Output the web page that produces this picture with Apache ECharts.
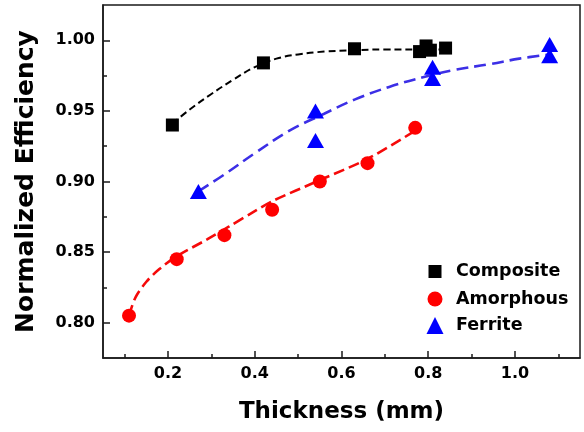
<!DOCTYPE html>
<html>
<head>
<meta charset="utf-8">
<script src="https://cdn.jsdelivr.net/npm/echarts@6/dist/echarts.min.js"></script>
<style>
  html, body { margin: 0; padding: 0; background: #fff; }
  #chart { width: 584px; height: 432px; }
</style>
</head>
<body>
<div id="chart"></div>
<script>
// Measured samples: thickness (mm) vs normalized efficiency
const compositeThickness = [0.21, 0.42, 0.63, 0.78, 0.795, 0.805, 0.84];
const compositeEff       = [0.940, 0.984, 0.994, 0.992, 0.996, 0.993, 0.9945];

const amorphousThickness = [0.11, 0.22, 0.33, 0.44, 0.55, 0.66, 0.77];
const amorphousEff       = [0.805, 0.845, 0.862, 0.880, 0.900, 0.913, 0.938];

const ferriteThickness = [0.27, 0.54, 0.54, 0.81, 0.81, 1.08, 1.08];
const ferriteEff       = [0.893, 0.950, 0.929, 0.981, 0.973, 0.997, 0.989];

// Fitted trend curves
const compositeFitX = [0.21, 0.25, 0.30, 0.35, 0.40, 0.45, 0.50, 0.56, 0.63, 0.70, 0.78, 0.84];
const compositeFitY = [0.941, 0.951, 0.962, 0.972, 0.981, 0.987, 0.990, 0.992, 0.993, 0.9935, 0.9935, 0.9935];

const amorphousFitX = [0.11, 0.125, 0.15, 0.18, 0.22, 0.29, 0.34, 0.40, 0.44, 0.55, 0.66, 0.77];
const amorphousFitY = [0.805, 0.818, 0.829, 0.838, 0.847, 0.859, 0.868, 0.879, 0.886, 0.901, 0.916, 0.936];

const ferriteFitX = [0.27, 0.33, 0.40, 0.48, 0.56, 0.63, 0.71, 0.79, 0.86, 0.94, 1.01, 1.08];
const ferriteFitY = [0.893, 0.905, 0.920, 0.936, 0.948, 0.958, 0.967, 0.974, 0.979, 0.983, 0.987, 0.990];

// Axis ticks
const xMajorTicks = [0.2, 0.4, 0.6, 0.8, 1.0];
const xMinorTicks = [0.1, 0.3, 0.5, 0.7, 0.9, 1.1];
const yMajorTicks = [0.80, 0.85, 0.90, 0.95, 1.00];
const yMinorTicks = [0.825, 0.875, 0.925, 0.975];

const FONT = 'DejaVu Sans';
const INK = '#1a1a1a';

function pairs(xs, ys) { return xs.map((x, i) => [x, ys[i]]); }

const xRange = { min: 0.05, max: 1.15 };
const yRange = { min: 0.775, max: 1.025 };

const chart = echarts.init(document.getElementById('chart'), null, { renderer: 'canvas' });

// One legend block per row so each marker keeps its own size;
// the icon is centred on x = 430 and the text starts near x = 455.
function legendFor(name, centerY, size) {
  return {
    data: [name],
    left: 430 - size / 2,
    top: centerY - 11,
    orient: 'vertical',
    itemWidth: size, itemHeight: size,
    symbolKeepAspect: true,
    selectedMode: false,
    textStyle: {
      fontFamily: FONT, fontWeight: 'bold', fontSize: 17.5, color: '#000',
      padding: [0, 0, 0, 16 - size / 2], lineHeight: 22
    }
  };
}

chart.setOption({
  animation: false,
  backgroundColor: '#fff',
  grid: {
    left: 103, right: 4, top: 5, bottom: 74,
    show: true, borderColor: INK, borderWidth: 1.5, backgroundColor: 'transparent'
  },
  legend: [
    legendFor('Composite', 266.5, 13),
    legendFor('Amorphous', 294, 15),
    legendFor('Ferrite', 320.5, 17)
  ],
  xAxis: [
    {
      type: 'value', min: xRange.min, max: xRange.max,
      name: 'Thickness (mm)', nameLocation: 'middle', nameGap: 43,
      nameTextStyle: { fontFamily: FONT, fontWeight: 'bold', fontSize: 23, color: '#000' },
      axisLine: { lineStyle: { color: INK, width: 1.5 } },
      axisTick: { inside: true, length: 7, customValues: xMajorTicks, lineStyle: { color: INK, width: 1.5 } },
      axisLabel: {
        customValues: xMajorTicks, margin: 8,
        fontFamily: FONT, fontWeight: 'bold', fontSize: 16, color: '#000',
        formatter: v => v.toFixed(1)
      },
      splitLine: { show: false }
    },
    {
      type: 'value', min: xRange.min, max: xRange.max, position: 'bottom',
      axisLine: { show: false },
      axisTick: { inside: true, length: 4, customValues: xMinorTicks, lineStyle: { color: INK, width: 1.5 } },
      axisLabel: { show: false },
      splitLine: { show: false }
    }
  ],
  yAxis: [
    {
      type: 'value', min: yRange.min, max: yRange.max,
      name: 'Normalized Efficiency', nameLocation: 'middle', nameGap: 64, nameRotate: 90,
      nameTextStyle: { fontFamily: FONT, fontWeight: 'bold', fontSize: 25, color: '#000' },
      axisLine: { show: true, lineStyle: { color: INK, width: 1.5 } },
      axisTick: { show: true, inside: true, length: 7, customValues: yMajorTicks, lineStyle: { color: INK, width: 1.5 } },
      axisLabel: {
        customValues: yMajorTicks, margin: 8,
        fontFamily: FONT, fontWeight: 'bold', fontSize: 16, color: '#000',
        formatter: v => v.toFixed(2)
      },
      splitLine: { show: false }
    },
    {
      type: 'value', min: yRange.min, max: yRange.max, position: 'left',
      axisLine: { show: false },
      axisTick: { show: true, inside: true, length: 4, customValues: yMinorTicks, lineStyle: { color: INK, width: 1.5 } },
      axisLabel: { show: false },
      splitLine: { show: false }
    }
  ],
  series: [
    {
      name: 'Composite fit', type: 'line', smooth: 0.4, showSymbol: false, silent: true,
      data: pairs(compositeFitX, compositeFitY),
      lineStyle: { color: '#000', width: 2, type: [7, 4] }, z: 2
    },
    {
      name: 'Amorphous fit', type: 'line', smooth: 0.3, showSymbol: false, silent: true,
      data: pairs(amorphousFitX, amorphousFitY),
      lineStyle: { color: '#f50a0a', width: 2.6, type: [11, 5] }, z: 2
    },
    {
      name: 'Ferrite fit', type: 'line', smooth: 0.4, showSymbol: false, silent: true,
      data: pairs(ferriteFitX, ferriteFitY),
      lineStyle: { color: '#3c2fe6', width: 2.6, type: [12, 6] }, z: 2
    },
    {
      name: 'Composite', type: 'scatter', symbol: 'rect', symbolSize: 13,
      data: pairs(compositeThickness, compositeEff),
      itemStyle: { color: '#000', opacity: 1 }, z: 5
    },
    {
      name: 'Amorphous', type: 'scatter', symbol: 'circle', symbolSize: 14,
      data: pairs(amorphousThickness, amorphousEff),
      itemStyle: { color: '#ff0000', opacity: 1 }, z: 5
    },
    {
      name: 'Ferrite', type: 'scatter', symbol: 'triangle', symbolSize: [17, 15],
      data: pairs(ferriteThickness, ferriteEff),
      itemStyle: { color: '#0000ff', opacity: 1 }, z: 5
    }
  ]
});
</script>
</body>
</html>
